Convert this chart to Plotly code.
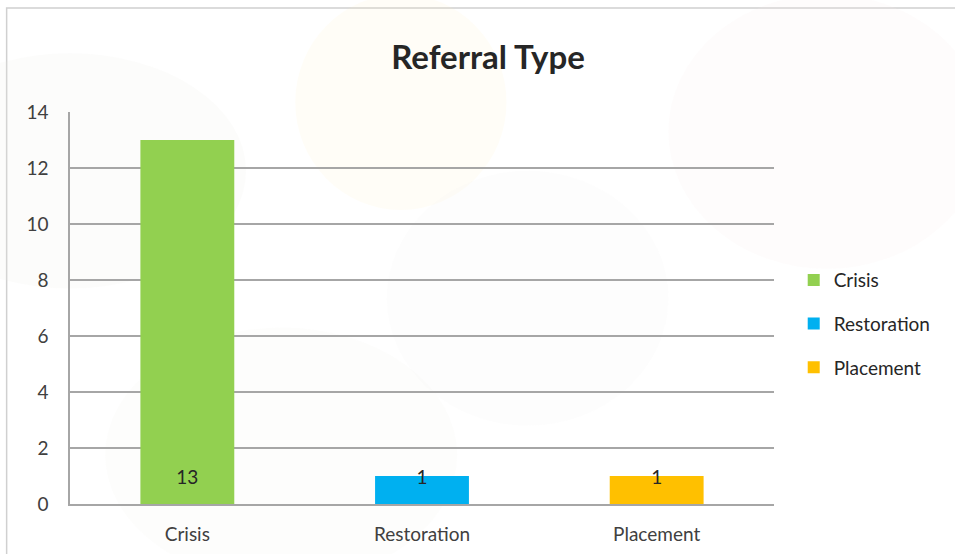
import plotly.graph_objects as go

# --- datos ---
categorias = ["Crisis", "Restoration", "Placement"]
valores = [13, 1, 1]
colores = ["#92d050", "#00b0f0", "#ffc000"]
y_ticks = [0, 2, 4, 6, 8, 10, 12, 14]
altura_etiqueta = 0.9  # etiquetas "inside base" como en Excel

fuente = "Lato, 'Open Sans', sans-serif"

fig = go.Figure()
for cat, val, col in zip(categorias, valores, colores):
    fig.add_trace(go.Bar(
        x=[cat], y=[val], name=cat,
        marker=dict(color=col, line=dict(width=0)),
        legendgroup=cat,
        hoverinfo="x+y",
    ))

# etiquetas de datos
fig.add_trace(go.Scatter(
    x=categorias, y=[altura_etiqueta] * len(categorias),
    text=[str(v) for v in valores], mode="text", textposition="middle center",
    textfont=dict(family=fuente, size=19, color="#262626"),
    showlegend=False, hoverinfo="skip",
))

# marco exterior del gráfico
shapes = [dict(type="rect", xref="paper", yref="paper",
               x0=-0.09, x1=1.3, y0=-0.2, y1=1.265,
               line=dict(color="#d0d0d0", width=1.5), fillcolor="rgba(0,0,0,0)",
               layer="below")]

# marca de agua muy tenue de fondo
manchas = [(-0.25, 0.55, 0.25, 1.15, "rgba(235,235,225,0.15)"),
           (0.32, 0.75, 0.62, 1.30, "rgba(255,240,190,0.12)"),
           (0.45, 0.20, 0.85, 0.85, "rgba(240,240,240,0.15)"),
           (0.85, 0.60, 1.30, 1.30, "rgba(250,235,235,0.15)"),
           (0.05, -0.2, 0.55, 0.45, "rgba(240,240,235,0.15)")]
for x0, y0, x1, y1, c in manchas:
    shapes.append(dict(type="circle", xref="paper", yref="paper",
                       x0=x0, x1=x1, y0=y0, y1=y1,
                       line=dict(width=0), fillcolor=c, layer="below"))

fig.update_layout(
    width=955, height=554,
    margin=dict(l=70, r=181, t=112, b=50),
    paper_bgcolor="white", plot_bgcolor="rgba(0,0,0,0)",
    barmode="overlay", bargap=0.6,
    title=dict(text="<b>Referral Type</b>", x=0.511, xref="container",
               y=1 - 57 / 554, yref="container", yanchor="middle", xanchor="center",
               font=dict(family=fuente, size=33, color="#262626")),
    font=dict(family=fuente, size=18, color="#404040"),
    legend=dict(x=1.028, y=0.459, xanchor="left", yanchor="middle",
                traceorder="grouped", tracegroupgap=16,
                font=dict(family=fuente, size=19, color="#262626"),
                bgcolor="rgba(0,0,0,0)"),
    shapes=shapes,
    xaxis=dict(showgrid=False, showline=True, linecolor="#a6a6a6", linewidth=1.5,
               ticks="outside", ticklen=12, tickcolor="rgba(0,0,0,0)",
               automargin=False,
               tickfont=dict(family=fuente, size=19, color="#404040")),
    yaxis=dict(range=[0, 14], tickvals=y_ticks, showgrid=True, gridcolor="#a6a6a6",
               gridwidth=1.5, showline=True, linecolor="#a6a6a6", linewidth=1.5,
               zeroline=False, ticks="outside", ticklen=16, tickcolor="rgba(0,0,0,0)",
               automargin=False,
               tickfont=dict(family=fuente, size=19, color="#404040")),
)

fig.write_html("out.html", config={"displayModeBar": False, "responsive": False},
               post_script="document.body.style.margin='0';"
                           "document.body.style.overflow='hidden';")
